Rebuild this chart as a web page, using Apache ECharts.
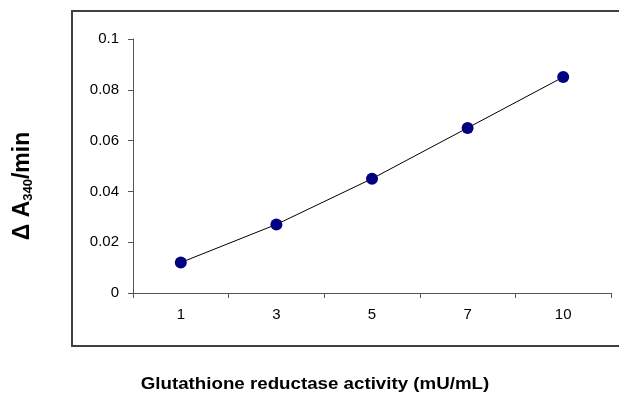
<!DOCTYPE html>
<html>
<head>
<meta charset="utf-8">
<script src="https://cdn.jsdelivr.net/npm/echarts@6/dist/echarts.min.js"></script>
<style>
  html, body { margin: 0; padding: 0; background: #fff; }
  #chart { width: 619px; height: 396px; }
</style>
</head>
<body>
<div id="chart"></div>
<script>
// activity levels (mU/mL) and measured rate
var categories = ['1', '3', '5', '7', '10'];
var rateValues = [0.012, 0.027, 0.045, 0.065, 0.085];
var yTicks = [0, 0.02, 0.04, 0.06, 0.08, 0.1];

var chart = echarts.init(document.getElementById('chart'));

var option = {
  animation: false,
  backgroundColor: '#fff',
  grid: { left: 133, top: 39, right: 8, bottom: 103 },
  xAxis: {
    type: 'category',
    data: categories,
    boundaryGap: true,
    axisLine: { lineStyle: { color: '#555', width: 1 } },
    axisTick: { show: true, length: 5, lineStyle: { color: '#555' } },
    axisLabel: { color: '#000', fontSize: 15, fontFamily: 'Liberation Sans, Arial', margin: 14 }
  },
  yAxis: {
    type: 'value',
    min: yTicks[0],
    max: yTicks[yTicks.length - 1],
    interval: 0.02,
    splitLine: { show: false },
    axisLine: { show: true, lineStyle: { color: '#555', width: 1 } },
    axisTick: { show: true, length: 5, lineStyle: { color: '#555' } },
    axisLabel: {
      color: '#000', fontSize: 15, fontFamily: 'Liberation Sans, Arial', margin: 14,
      formatter: function (v) { return String(+v.toFixed(2)); }
    }
  },
  series: [{
    type: 'line',
    data: rateValues,
    symbol: 'circle',
    symbolSize: 12,
    itemStyle: { color: '#000080' },
    lineStyle: { color: '#000', width: 1 }
  }],
  graphic: [
    {
      type: 'rect',
      shape: { x: 72, y: 11, width: 600, height: 335 },
      style: { fill: 'none', stroke: '#404040', lineWidth: 2 },
      z: -1
    },
    {
      // the original title is drawn a bit wide, so stretch it horizontally
      type: 'text',
      x: 315, y: 385,
      scaleX: 1.17,
      style: {
        text: 'Glutathione reductase activity (mU/mL)',
        font: 'bold 16px "Liberation Sans", Arial',
        fill: '#000',
        align: 'center',
        verticalAlign: 'middle'
      }
    },
    {
      type: 'text',
      x: 23, y: 186,
      rotation: Math.PI / 2,
      style: {
        text: 'Δ A{sub|340}/min',
        font: 'bold 23px "Liberation Sans", Arial',
        fill: '#000',
        align: 'center',
        verticalAlign: 'middle',
        rich: {
          sub: { fontSize: 13, fontWeight: 'bold', fontFamily: 'Liberation Sans, Arial', verticalAlign: 'bottom', padding: [8, 0, 0, 0] }
        }
      }
    }
  ]
};

chart.setOption(option);
window.addEventListener('resize', function () { chart.resize(); });
</script>
</body>
</html>
